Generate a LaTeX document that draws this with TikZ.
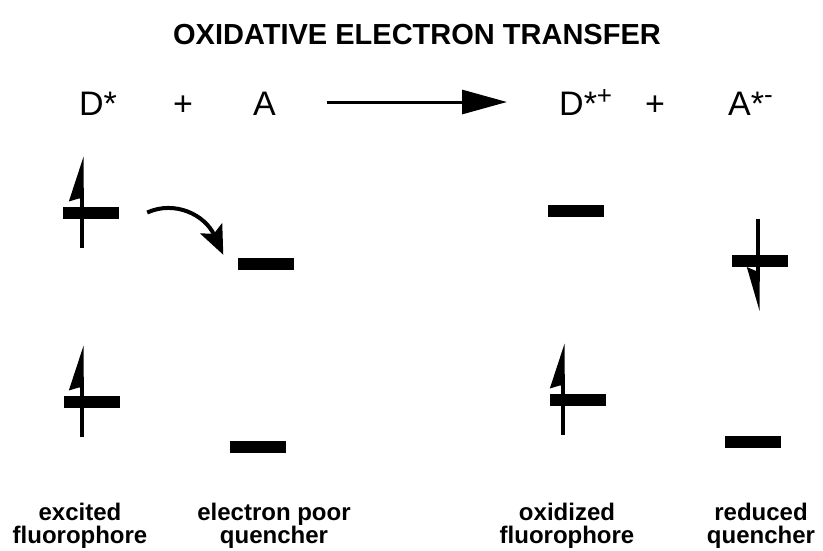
\documentclass[tikz,border=0pt]{standalone}
\usepackage{fontspec}
\setmainfont{Liberation Sans}
\usetikzlibrary{arrows.meta,calc}
\begin{document}
\begin{tikzpicture}[x=1pt,y=-1pt,
  lvl/.style={fill=black, draw=none, rectangle, inner sep=0pt, minimum width=56pt, minimum height=12pt},
  species/.style={font=\fontsize{34}{36}\selectfont, inner sep=0pt, anchor=base west},
  plussign/.style={font=\fontsize{34}{36}\selectfont, inner sep=0pt, anchor=base},
  caption/.style={font=\fontsize{24}{22.5}\selectfont\bfseries, inner sep=0pt, anchor=north, align=center},
  titlestyle/.style={font=\fontsize{29}{32}\selectfont\bfseries, inner sep=0pt, anchor=base},
  rxn/.style={line width=3pt, -{Triangle[length=45pt,width=24pt]}},
  hop/.style={line width=4pt, -{Stealth[length=29pt,width=24pt,inset=6pt]}},
  spinup/.pic={
    \draw[line width=4pt] (0,35) -- (0,-15);
    \fill (1.8,-56) -- (-13,-11) -- (-3,-14) -- (2,-14) -- cycle;
  },
  spindown/.pic={
    \draw[line width=4pt] (0,-41.5) -- (0,11);
    \fill (1.8,50.5) -- (-11,6.5) -- (-3,10) -- (2,10) -- cycle;
  }
]
\useasboundingbox (0,0) rectangle (823,550);

% title
\node[titlestyle] (title) at (417,44) {OXIDATIVE ELECTRON TRANSFER};

% reaction line
\node[species] (tD) at (79,115) {D*};
\node[plussign] (tP1) at (183,115) {+};
\node[species] (tA) at (253,115) {A};
\node[species] (tDp) at (559,115) {D*\raisebox{11pt}{\fontsize{26}{26}\selectfont +}};
\node[plussign] (tP2) at (655,115) {+};
\node[species] (tAm) at (728,115) {A*\raisebox{12pt}{\fontsize{26}{26}\selectfont -}};
\coordinate (rs) at (327,102);
\coordinate (re) at (507,102);
\draw[rxn] (rs) -- (re);

% energy levels
\node[lvl] (dU) at (91,212.5) {};
\node[lvl] (dL) at (92,401.5) {};
\node[lvl] (aU) at (265.5,263.5) {};
\node[lvl] (aL) at (258,446.5) {};
\node[lvl] (pU) at (576,210.5) {};
\node[lvl] (pL) at (577.5,399.5) {};
\node[lvl] (rU) at (760,260.5) {};
\node[lvl] (rL) at (752.5,442) {};

% electrons
\pic at ($(dU.west)+(19,0)$) {spinup};
\pic at ($(dL.west)+(18,0)$) {spinup};
\pic at ($(pL.west)+(13.5,0)$) {spinup};
\pic at ($(rU.west)+(26,0)$) {spindown};

% electron transfer arrow
\coordinate (cs) at ($(dU.east)+(28,0)$);
\coordinate (ce) at ($(aU.north west)+(-14,-2.5)$);
\draw[hop] (cs) .. controls (175,200) and (205,215) .. (ce);

% captions
\node[caption] (c1) at (80,503) {excited\\fluorophore};
\node[caption] (c2) at (274,503) {electron poor\\quencher};
\node[caption] (c3) at (567,503) {oxidized\\fluorophore};
\node[caption] (c4) at (761,503) {reduced\\quencher};
\end{tikzpicture}
\end{document}
